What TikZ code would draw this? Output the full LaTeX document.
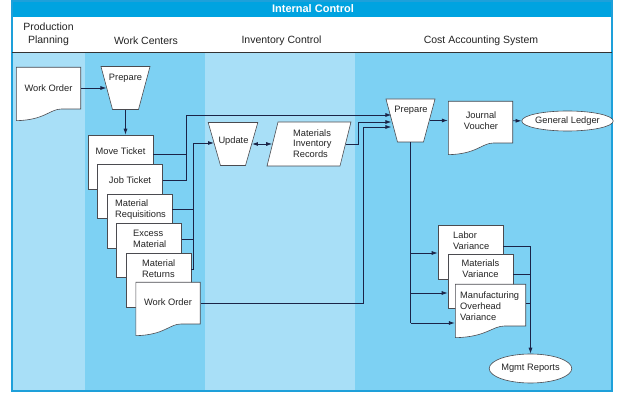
\documentclass[tikz,border=0pt]{standalone}
\usepackage{fontspec}
\setmainfont{Liberation Sans}
\usetikzlibrary{shapes.geometric, arrows.meta, calc}
\definecolor{lanelight}{RGB}{168,223,247}
\definecolor{lanemed}{RGB}{125,209,243}
\definecolor{titlebar}{RGB}{0,163,224}
\definecolor{framecol}{RGB}{30,160,218}
\definecolor{conn}{RGB}{27,36,71}
\definecolor{shapeline}{RGB}{75,75,80}
\definecolor{txtcol}{RGB}{35,35,35}
\begin{document}
\begin{tikzpicture}[x=1pt, y=-1pt,
  font=\fontsize{9.3}{10.8}\selectfont, text=txtcol,
  shp/.style={draw=shapeline, line width=0.6pt, fill=white, inner sep=0pt},
  docrect/.style={shp, rectangle, minimum width=65pt, minimum height=54pt},
  docwave/.style={rectangle, minimum width=65pt, minimum height=54pt, inner sep=0pt,
    path picture={\draw[shapeline, line width=0.6pt, fill=white]
      ([shift={(0.3pt,-0.3pt)}]path picture bounding box.north west)
      -- ([shift={(-0.3pt,-0.3pt)}]path picture bounding box.north east)
      -- ([shift={(-0.3pt,12pt)}]path picture bounding box.south east)
      -- ($(path picture bounding box.south west)!0.7!(path picture bounding box.south east)+(0pt,12pt)$)
      .. controls ($(path picture bounding box.south west)!0.52!(path picture bounding box.south east)+(0pt,12pt)$)
      and ($(path picture bounding box.south west)!0.45!(path picture bounding box.south east)+(0pt,1pt)$)
      .. ([shift={(0.3pt,0.3pt)}]path picture bounding box.south west) -- cycle;}},
  trap/.style={shp, trapezium, shape border rotate=180, trapezium left angle=75,
    trapezium right angle=75, inner xsep=13pt, inner ysep=21.5pt},
  para/.style={shp, trapezium, trapezium left angle=76, trapezium right angle=104,
    inner xsep=31pt, inner ysep=22pt},
  oval/.style={shp, ellipse},
  txt/.style={inner sep=0pt, align=center},
  txtl/.style={inner sep=0pt, align=left, anchor=west},
  hdr/.style={inner sep=0pt, align=center, font=\fontsize{10.5}{13}\selectfont},
  line/.style={draw=conn, line width=0.8pt},
  conn/.style={line, -{Latex[length=6pt,width=4pt]}},
  dbl/.style={line, {Latex[length=6pt,width=4pt]}-{Latex[length=6pt,width=4pt]}}
]
\useasboundingbox (0,0) rectangle (619,406);
% lanes and frame
\fill[lanelight] (12,52) rectangle (85,391);
\fill[lanemed] (85,52) rectangle (205,391);
\fill[lanelight] (205,52) rectangle (355,391);
\fill[lanemed] (355,52) rectangle (612,391);
\fill[titlebar] (12,1) rectangle (612,17);
\fill[white] (12,17) rectangle (612,52);
\draw[framecol, line width=1.2pt] (12,1) rectangle (612,391);
\draw[black!80, line width=0.6pt] (12,52) -- (612,52);

\node[txt, text=white, font=\fontsize{11}{13}\selectfont\bfseries] (title) at (313,9) {Internal Control};
\node[hdr] (hpp) at (48.5,34) {Production\\Planning};
\node[hdr] (hwc) at (146,41) {Work Centers};
\node[hdr] (hic) at (281.5,41) {Inventory Control};
\node[hdr] (hca) at (481,41) {Cost Accounting System};

% production planning
\node[docwave] (wo) at (48.5,94) {};
\node[txt] (wo-t) at (48.5,88) {Work Order};

% work centers
\node[trap] (prep1) at (125.5,88) {};
\node[txt] (prep1-t) at (125.5,78) {Prepare};

\node[docrect] (mt) at (120.5,162) {};
\node[txt] (mt-t) at (120.5,151) {Move Ticket};
\node[docrect] (jt) at (130,191.5) {};
\node[txt] (jt-t) at (130,180) {Job Ticket};
\node[docrect] (mr) at (139.5,221) {};
\node[txtl] (mr-t) at (115,209.5) {Material\\Requisitions};
\node[docrect] (em) at (149,250.5) {};
\node[txtl] (em-t) at (133,239) {Excess\\Material};
\node[docrect] (mret) at (158.5,280) {};
\node[txtl] (mret-t) at (142,268.5) {Material\\Returns};
\node[docwave] (wo2) at (168,309) {};
\node[txt] (wo2-t) at (168,302) {Work Order};

% inventory control
\node[trap, inner xsep=12.5pt, trapezium left angle=74, trapezium right angle=74] (upd) at (233,144) {};
\node[txt] (upd-t) at (233.5,141) {Update};
\node[para] (mir) at (309,144) {};
\node[txtl] (mir-t) at (293,143.5) {Materials\\Inventory\\Records};

% cost accounting
\node[trap] (prep2) at (410.5,120.5) {};
\node[txt] (prep2-t) at (411,110.5) {Prepare};
\node[docwave] (jv) at (480.5,128) {};
\node[txt] (jv-t) at (481,121) {Journal\\Voucher};
\node[oval, minimum width=77pt, minimum height=20pt] (gl) at (567.5,121) {General Ledger};

\node[docrect] (lv) at (470.5,252.5) {};
\node[txtl] (lv-t) at (453,241) {Labor\\Variance};
\node[docrect] (mv) at (480.5,281.5) {};
\node[txt] (mv-t) at (480.5,269) {Materials\\Variance};
\node[docwave, minimum width=71pt] (mov) at (490.5,311) {};
\node[txtl] (mov-t) at (460,306) {Manufacturing\\Overhead\\Variance};
\node[oval, minimum width=75pt, minimum height=29pt] (mgmt) at (530.5,368.5) {Mgmt Reports};

% junction points
\coordinate (j1) at (186.5,115);
\coordinate (j2) at (193,143);
\coordinate (j3) at (358,122);
\coordinate (j4) at (363,127);
\coordinate (b1) at (410.5,253);
\coordinate (b2) at (410.5,293);
\coordinate (b3) at (410.5,323);
\coordinate (r2) at ([yshift=-20pt]mv.north east);
\coordinate (r3) at ([yshift=-20pt]mov.north east);

% connectors
\draw[conn] (wo.east |- prep1) -- (prep1);
\draw[conn] (prep1.south) -- (prep1.south |- mt.north);

\draw[line] ([yshift=-20pt]mt.north east) -| (j1);
\draw[line] ([yshift=-16pt]jt.north east) -| (j1);
\draw[conn] (j1) -- (prep2.west |- j1);

\draw[line] ([yshift=-16pt]mr.north east) -| (j2);
\draw[line] ([yshift=-16pt]em.north east) -| (j2);
\draw[line] ([yshift=-17pt]mret.north east) -| (j2);
\draw[conn] (j2) -- (upd.west |- j2);

\draw[dbl] (upd.east) -- (mir.west);
\draw[line] (mir.east) -| (j3);
\draw[conn] (j3) -- (prep2.west |- j3);
\draw[line] ([yshift=-22pt]wo2.north east) -| (j4);
\draw[conn] (j4) -- (prep2.west |- j4);

\draw[conn] (prep2.east) -- (prep2.east -| jv.west);
\draw[conn] ([yshift=-20pt]jv.north east) -- (gl);

\draw[line] (prep2.south) -- (b3);
\draw[conn] (b1) -- (b1 -| lv.west);
\draw[conn] (b2) -- (b2 -| mv.west);
\draw[conn] (b3) -- (b3 -| mov.west);

\draw[conn] ([yshift=-21pt]lv.north east) -| (mgmt);
\draw[line] (r2) -- (r2 -| mgmt);
\draw[line] (r3) -- (r3 -| mgmt);
\end{tikzpicture}
\end{document}
